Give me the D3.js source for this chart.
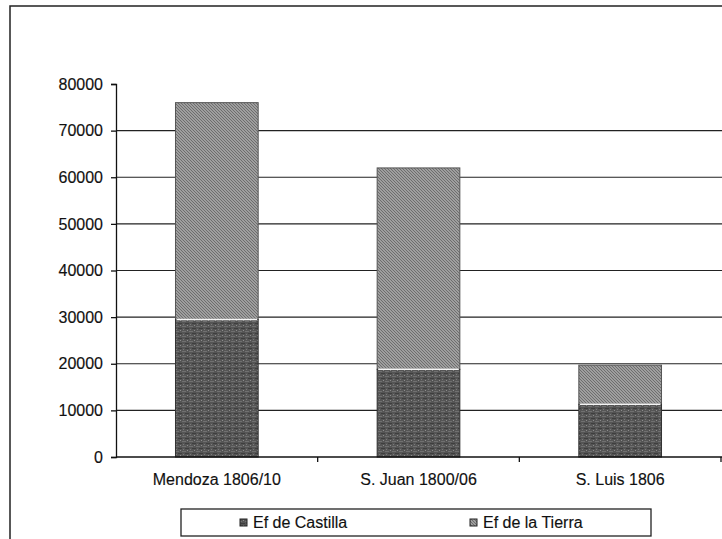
<!DOCTYPE html>
<html>
<head>
<meta charset="utf-8">
<script src="https://cdn.jsdelivr.net/npm/d3@7"></script>
<style>
  body { margin: 0; background: #fff; }
  text { font-family: "Liberation Sans", Arial, sans-serif; fill: #111; stroke: #111; stroke-width: 0.15px; }
</style>
</head>
<body>
<div id="chart"></div>
<script>
// data
const categories = ["Mendoza 1806/10", "S. Juan 1800/06", "S. Luis 1806"];
const castilla = [29500, 18800, 11300];   // Ef de Castilla (bottom, dark)
const tierra = [46500, 43200, 8400];      // Ef de la Tierra (top, hatched)
const yTicks = [0, 10000, 20000, 30000, 40000, 50000, 60000, 70000, 80000];
const seriesNames = ["Ef de Castilla", "Ef de la Tierra"];

const width = 722, height = 539;

const svg = d3.select('#chart')
    .append('svg')
    .attr('width', width)
    .attr('height', height);

// patterns
const defs = svg.append('defs');
const hatch = defs.append('pattern')
    .attr('id', 'hatch')
    .attr('patternUnits', 'userSpaceOnUse')
    .attr('width', 3).attr('height', 3);
hatch.append('rect').attr('width', 3).attr('height', 3).attr('fill', '#b4b4b4');
hatch.append('path')
    .attr('d', 'M-1,-1 L4,4 M-1,2 L1,4 M2,-1 L4,1')
    .attr('stroke', '#6a6a6a').attr('stroke-width', 1.1);

const dark = defs.append('pattern')
    .attr('id', 'dark')
    .attr('patternUnits', 'userSpaceOnUse')
    .attr('width', 7).attr('height', 5);
dark.append('rect').attr('width', 7).attr('height', 5).attr('fill', '#555');
dark.append('rect').attr('x', 0).attr('y', 1).attr('width', 4).attr('height', 1).attr('fill', '#707070');
dark.append('rect').attr('x', 3).attr('y', 3).attr('width', 4).attr('height', 1).attr('fill', '#3e3e3e');
dark.append('rect').attr('x', 5).attr('y', 0).attr('width', 1).attr('height', 1).attr('fill', '#8c8c8c');
dark.append('rect').attr('x', 1).attr('y', 4).attr('width', 1).attr('height', 1).attr('fill', '#7a7a7a');

// outer frame (only top and left visible)
svg.append('path')
    .attr('d', `M10,${height} L10,6 L${width},6`)
    .attr('fill', 'none')
    .attr('stroke', '#222')
    .attr('stroke-width', 1.5);

// scales
const x = d3.scaleBand()
    .domain(categories)
    .range([116, 721])
    .paddingInner(0.59)
    .paddingOuter(0.295);

const y = d3.scaleLinear()
    .domain([0, 80000])
    .range([457, 84]);

// gridlines
svg.append('g')
    .selectAll('line')
    .data(yTicks.filter(d => d > 0 && d < 80000))
    .enter()
    .append('line')
    .attr('x1', 116).attr('x2', width)
    .attr('y1', d => y(d)).attr('y2', d => y(d))
    .attr('stroke', '#222')
    .attr('stroke-width', 1.2);

// bars
const stacked = categories.map((c, i) => ({ cat: c, a: castilla[i], b: tierra[i] }));
const bars = svg.append('g').selectAll('g')
    .data(stacked)
    .enter()
    .append('g');

bars.append('rect')
    .attr('x', d => x(d.cat))
    .attr('width', x.bandwidth())
    .attr('y', d => y(d.a + d.b))
    .attr('height', d => y(d.a) - y(d.a + d.b))
    .attr('fill', 'url(#hatch)')
    .attr('stroke', '#555')
    .attr('stroke-width', 1);

bars.append('rect')
    .attr('x', d => x(d.cat))
    .attr('width', x.bandwidth())
    .attr('y', d => y(d.a))
    .attr('height', d => y(0) - y(d.a))
    .attr('fill', 'url(#dark)')
    .attr('stroke', '#333')
    .attr('stroke-width', 1);

bars.append('line')
    .attr('x1', d => x(d.cat) + 1)
    .attr('x2', d => x(d.cat) + x.bandwidth() - 1)
    .attr('y1', d => y(d.a))
    .attr('y2', d => y(d.a))
    .attr('stroke', '#f4f4f4')
    .attr('stroke-width', 1.5);

// y axis
const yAxis = svg.append('g')
    .attr('transform', 'translate(116,0)')
    .call(d3.axisLeft(y).tickValues(yTicks).tickSize(5).tickPadding(8).tickFormat(d3.format('d')));
yAxis.select('.domain').attr('stroke', '#111').attr('stroke-width', 1.3);
yAxis.selectAll('line').attr('stroke', '#111').attr('stroke-width', 1.3);
yAxis.selectAll('text').attr('font-size', 16).attr('fill', '#111').attr('font-family', '"Liberation Sans", Arial, sans-serif');

// x axis
const xAxis = svg.append('g')
    .attr('transform', 'translate(0,457)')
    .call(d3.axisBottom(x).tickSize(0).tickPadding(17));
xAxis.select('.domain').remove();
xAxis.selectAll('text').attr('font-size', 16).attr('fill', '#111').attr('font-family', '"Liberation Sans", Arial, sans-serif');
svg.append('line')
    .attr('x1', 116).attr('x2', width)
    .attr('y1', 457).attr('y2', 457)
    .attr('stroke', '#111').attr('stroke-width', 1.3);
svg.append('g')
    .selectAll('line')
    .data(categories)
    .enter()
    .append('line')
    .attr('x1', d => x(d) + x.bandwidth() + x.step() * x.paddingInner() / 2)
    .attr('x2', d => x(d) + x.bandwidth() + x.step() * x.paddingInner() / 2)
    .attr('y1', 457).attr('y2', 462)
    .attr('stroke', '#111').attr('stroke-width', 1.3);

// legend
const legend = svg.append('g');
legend.append('rect')
    .attr('x', 181).attr('y', 509)
    .attr('width', 470).attr('height', 27)
    .attr('fill', '#fff')
    .attr('stroke', '#222')
    .attr('stroke-width', 1.3);
const legendX = [240, 470];
const legendFill = ['url(#dark)', 'url(#hatch)'];
seriesNames.forEach((name, i) => {
    legend.append('rect')
        .attr('x', legendX[i]).attr('y', 519)
        .attr('width', 7).attr('height', 7)
        .attr('fill', legendFill[i])
        .attr('stroke', '#222').attr('stroke-width', 1);
    legend.append('text')
        .attr('x', legendX[i] + 13).attr('y', 528)
        .attr('font-size', 16)
        .text(name);
});
</script>
</body>
</html>
